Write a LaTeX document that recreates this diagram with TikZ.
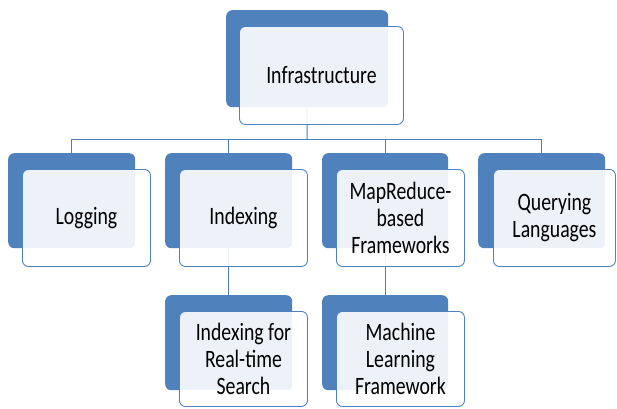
\documentclass[tikz,border=0pt]{standalone}
\usepackage{fontspec}
\setmainfont[FakeStretch=0.79]{Carlito}
\begin{document}
\begin{tikzpicture}[x=1pt,y=-1pt,
  back/.style={rectangle, rounded corners=6pt, fill=officeblue, draw=none, anchor=north west, inner sep=0pt},
  front/.style={rectangle, rounded corners=6pt, fill=white, fill opacity=0.9, text opacity=1, draw=officeblue, line width=0.9pt, anchor=north west, inner sep=2pt, align=center, font=\fontsize{25}{27}\selectfont, text=black},
  conn/.style={draw=connblue, line width=1pt}]
\definecolor{officeblue}{HTML}{4F81BD}
\definecolor{connblue}{HTML}{4A7EBB}
\useasboundingbox (0,0) rectangle (617,408);
% back boxes
\node[back, minimum width=162pt, minimum height=97pt] (topb) at (226,10) {};
\node[back, minimum width=127pt, minimum height=95pt] (logb) at (8,153) {};
\node[back, minimum width=127pt, minimum height=95pt] (idxb) at (165,153) {};
\node[back, minimum width=126pt, minimum height=95pt] (mrb) at (322,153) {};
\node[back, minimum width=127pt, minimum height=95pt] (qryb) at (478,153) {};
\node[back, minimum width=127pt, minimum height=95pt] (rtb) at (165,295) {};
\node[back, minimum width=126pt, minimum height=95pt] (mlb) at (322,295) {};
% connectors
\coordinate (bus) at (307,139);
\draw[conn] (topb.south) -- (bus);
\draw[conn] (logb.north) |- (bus);
\draw[conn] (qryb.north) |- (bus);
\draw[conn] (idxb.north) -- (idxb.north |- bus);
\draw[conn] (mrb.north) -- (mrb.north |- bus);
\draw[conn] (idxb.south) -- (rtb.north);
\draw[conn] (mrb.south) -- (mlb.north);
% front boxes
\node[front, minimum width=164pt, minimum height=98pt] (top) at (239,26) {Infrastructure};
\node[front, minimum width=128pt, minimum height=97pt] (log) at (22,169) {Logging};
\node[front, minimum width=128pt, minimum height=97pt] (idx) at (179,169) {Indexing};
\node[front, minimum width=128pt, minimum height=97pt] (mr) at (336,169) {MapReduce-\\based\\Frameworks};
\node[front, minimum width=122pt, minimum height=97pt] (qry) at (493,169) {Querying\\Languages};
\node[front, minimum width=128pt, minimum height=95pt] (rt) at (179,311) {Indexing for\\Real-time\\Search};
\node[front, minimum width=128pt, minimum height=95pt] (ml) at (336,311) {Machine\\Learning\\Framework};
\end{tikzpicture}
\end{document}
